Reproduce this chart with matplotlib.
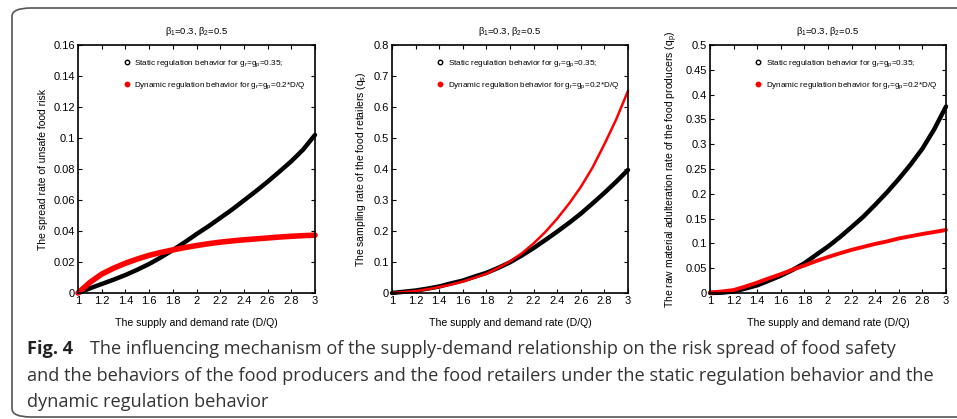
import matplotlib
matplotlib.use("Agg")
import matplotlib.pyplot as plt
from matplotlib.patches import FancyBboxPatch
from matplotlib.lines import Line2D

x = [1.0, 1.1, 1.2, 1.3, 1.4, 1.5, 1.6, 1.7, 1.8, 1.9, 2.0,
     2.1, 2.2, 2.3, 2.4, 2.5, 2.6, 2.7, 2.8, 2.9, 3.0]

risk_static = [0.0, 0.003, 0.0058, 0.0086, 0.0116, 0.015, 0.0187, 0.023, 0.0277, 0.0327, 0.038,
               0.043, 0.0484, 0.0538, 0.0597, 0.0656, 0.0718, 0.0783, 0.085, 0.0925, 0.102]
risk_dynamic = [0.0, 0.0068, 0.0122, 0.016, 0.0192, 0.0219, 0.0243, 0.0262, 0.0278, 0.0293, 0.0306,
                0.0318, 0.0328, 0.0336, 0.0343, 0.0349, 0.0355, 0.0361, 0.0366, 0.037, 0.0373]

retail_static = [0.0, 0.004, 0.008, 0.014, 0.021, 0.031, 0.04, 0.053, 0.065, 0.081, 0.099,
                 0.121, 0.145, 0.171, 0.198, 0.226, 0.256, 0.289, 0.323, 0.359, 0.397]
retail_dynamic = [0.0, 0.003, 0.006, 0.012, 0.019, 0.027, 0.037, 0.049, 0.062, 0.081, 0.102,
                  0.128, 0.16, 0.197, 0.24, 0.288, 0.342, 0.405, 0.48, 0.56, 0.652]

prod_static = [0.0, 0.0007, 0.003, 0.009, 0.0155, 0.025, 0.035, 0.0465, 0.06, 0.077, 0.0937,
               0.1125, 0.133, 0.154, 0.178, 0.203, 0.23, 0.259, 0.291, 0.33, 0.376]
prod_dynamic = [0.001, 0.003, 0.006, 0.013, 0.021, 0.0297, 0.038, 0.047, 0.0555, 0.0645, 0.0725,
                0.08, 0.087, 0.093, 0.099, 0.104, 0.11, 0.1145, 0.119, 0.123, 0.127]

xticks = [1, 1.2, 1.4, 1.6, 1.8, 2, 2.2, 2.4, 2.6, 2.8, 3]
xticklabels = ["1", "1.2", "1.4", "1.6", "1.8", "2", "2.2", "2.4", "2.6", "2.8", "3"]

yticks1 = [0, 0.02, 0.04, 0.06, 0.08, 0.1, 0.12, 0.14, 0.16]
yticklabels1 = ["0", "0.02", "0.04", "0.06", "0.08", "0.1", "0.12", "0.14", "0.16"]
yticks2 = [0, 0.1, 0.2, 0.3, 0.4, 0.5, 0.6, 0.7, 0.8]
yticklabels2 = ["0", "0.1", "0.2", "0.3", "0.4", "0.5", "0.6", "0.7", "0.8"]
yticks3 = [0, 0.05, 0.1, 0.15, 0.2, 0.25, 0.3, 0.35, 0.4, 0.45, 0.5]
yticklabels3 = ["0", "0.05", "0.1", "0.15", "0.2", "0.25", "0.3", "0.35", "0.4", "0.45", "0.5"]

title = r"$\beta_1$=0.3, $\beta_2$=0.5"
xlabel = "The supply and demand rate (D/Q)"
ylabels = ["The spread rate of unsafe food risk",
           "The sampling rate of the food retailers (q$_s$)",
           "The raw material adulteration rate of the food producers (q$_p$)"]
leg_static = "Static regulation behavior for g$_r$=g$_p$=0.35;"
leg_dynamic = "Dynamic regulation behavior for g$_r$=g$_p$=0.2*D/Q"

cap_bold = "Fig. 4"
cap1 = "The influencing mechanism of the supply-demand relationship on the risk spread of food safety"
cap2 = "and the behaviors of the food producers and the food retailers under the static regulation behavior and the"
cap3 = "dynamic regulation behavior"

plt.rcParams['font.family'] = ['Liberation Sans', 'DejaVu Sans']
plt.rcParams['mathtext.fontset'] = 'custom'
plt.rcParams['mathtext.rm'] = 'Liberation Sans'
plt.rcParams['mathtext.it'] = 'Liberation Sans'
plt.rcParams['mathtext.bf'] = 'Liberation Sans:bold'

W, H = 957, 419
fig = plt.figure(figsize=(W / 100, H / 100), dpi=100)

# rounded border frame
border = FancyBboxPatch((12 / W, 1 - 417 / H), 1.2, 409 / H,
                        boxstyle="round,pad=0,rounding_size=0.02",
                        transform=fig.transFigure, fill=False,
                        edgecolor="#555555", linewidth=1.2, clip_on=False)
fig.patches.append(border)

panels = [
    (78, 315, risk_static, risk_dynamic, yticks1, yticklabels1, 0.16, ylabels[0], 4.0, 3.2),
    (392, 628, retail_static, retail_dynamic, yticks2, yticklabels2, 0.8, ylabels[1], 1.8, 3.2),
    (710, 946, prod_static, prod_dynamic, yticks3, yticklabels3, 0.5, ylabels[2], 2.8, 3.2),
]
top, bot = 45, 293
for (l, r, ys, yd, yt, ytl, ymax, yl, rlw, blw) in panels:
    ax = fig.add_axes([l / W, 1 - bot / H, (r - l) / W, (bot - top) / H])
    ax.plot(x, ys, color="black", linewidth=blw, solid_capstyle="round", clip_on=False)
    ax.plot(x, yd, color="red", linewidth=rlw, solid_capstyle="round", clip_on=False)
    ax.set_xlim(1, 3)
    ax.set_ylim(0, ymax)
    ax.set_xticks(xticks)
    ax.set_xticklabels(xticklabels)
    ax.set_yticks(yt)
    ax.set_yticklabels(ytl)
    ax.tick_params(direction="in", top=True, right=True, length=3, width=0.8,
                   labelsize=8, pad=2)
    for s in ax.spines.values():
        s.set_linewidth(1.2)
    ax.set_title(title, fontsize=6.8, pad=8)
    ax.set_xlabel(xlabel, fontsize=7.6, labelpad=9)
    ax.set_ylabel(yl, fontsize=7.5, labelpad=4)
    handles = [Line2D([], [], linestyle="none", marker="o", markersize=3.2,
                      markerfacecolor="white", markeredgecolor="black", markeredgewidth=1),
               Line2D([], [], linestyle="none", marker="o", markersize=3.2,
                      color="red")]
    ax.legend(handles, [leg_static, leg_dynamic], loc="upper left",
              bbox_to_anchor=(0.195, 0.945), frameon=False, fontsize=5.9,
              handlelength=0.6, handletextpad=0.6, labelspacing=1.3,
              borderaxespad=0, borderpad=0)

capfont = ["Open Sans", "DejaVu Sans"]
capcolor = "#333333"
fig.text(27 / W, 1 - 354 / H, cap_bold, fontsize=13.1, va="baseline", fontweight="bold",
         fontfamily=capfont, color="#222222")
fig.text(90 / W, 1 - 354 / H, cap1, fontsize=13.1, va="baseline", fontfamily=capfont, color=capcolor)
fig.text(27 / W, 1 - 381 / H, cap2, fontsize=13.1, va="baseline", fontfamily=capfont, color=capcolor)
fig.text(27 / W, 1 - 407 / H, cap3, fontsize=13.1, va="baseline", fontfamily=capfont, color=capcolor)

fig.savefig("out.png", dpi=100)
